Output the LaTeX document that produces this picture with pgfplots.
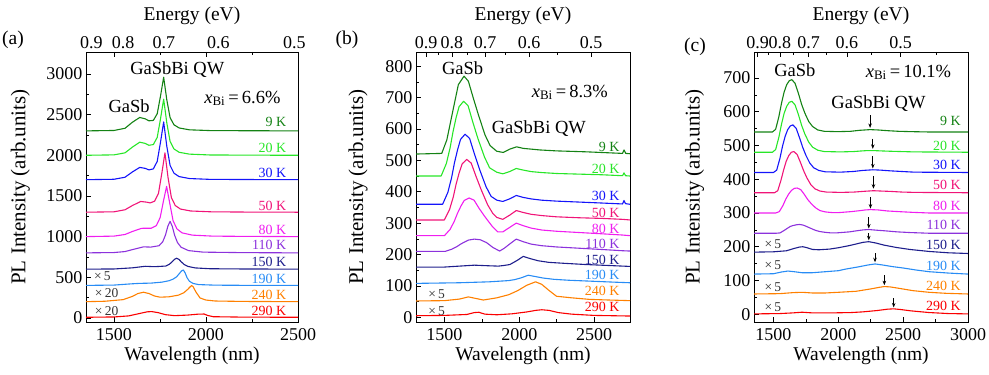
\documentclass[border=0pt]{standalone}
\usepackage{pgfplots}
\pgfplotsset{compat=1.18}
\usepackage{fontspec}
\setmainfont{Liberation Serif}
\usetikzlibrary{arrows.meta}
\definecolor{cA}{RGB}{20,130,20}
\definecolor{cB}{RGB}{40,230,40}
\definecolor{cC}{RGB}{20,20,250}
\definecolor{cD}{RGB}{240,20,120}
\definecolor{cE}{RGB}{240,30,240}
\definecolor{cF}{RGB}{140,50,220}
\definecolor{cG}{RGB}{30,30,140}
\definecolor{cH}{RGB}{40,140,245}
\definecolor{cI}{RGB}{255,128,0}
\definecolor{cJ}{RGB}{250,0,0}
\newcommand{\tk}{\fontsize{18}{18}\selectfont}
\newcommand{\lb}{\fontsize{19.5}{20}\selectfont}
\newcommand{\an}{\fontsize{18.5}{19}\selectfont}
\newcommand{\tf}{\fontsize{14}{14}\selectfont}
\newcommand{\xf}{\fontsize{13.5}{14}\selectfont}
\tikzset{
 tl/.style={font=\tf, anchor=east},
 xl/.style={font=\xf, text=black!80},
 ar/.style={black, line width=0.8pt, -{Stealth[length=4.5pt,width=3.5pt]}},
}
\pgfplotsset{
 base/.style={scale only axis, anchor=south west, height=270pt,
   tick align=inside, major tick length=5pt, minor tick length=3pt,
   /pgf/number format/assume math mode=true, /pgf/number format/1000 sep={},
   ticklabel style={font=\tk},
   axis line style={line width=0.7pt}, every tick/.style={black, line width=0.6pt}},
 main/.style={base, ytick pos=left, minor y tick num=1, minor x tick num=1,
   xticklabel style={yshift=-3pt},
   xlabel={Wavelength (nm)}, ylabel={PL Intensity (arb.units)},
   every axis x label/.style={at={(axis description cs:0.5,-0.125)}, anchor=center, font=\lb},
   every axis y label/.style={rotate=90, anchor=center, font=\fontsize{21}{21}\selectfont},
   every axis plot/.append style={line width=1.1pt, line join=round}},
 top/.style={base, axis x line*=top, hide y axis, ymin=0, ymax=1,
   xlabel={Energy (eV)},
   xtick={1377.8,1550,1771.4,2066.7,2480}, xticklabels={0.9,0.8,0.7,0.6,0.5},
   every axis x label/.style={at={(axis description cs:0.5,1.135)}, anchor=center, font=\lb}},
}
\begin{document}
\begin{tikzpicture}
\path[use as bounding box] (0pt,0pt) rectangle (989pt,375pt);
% ---------------- (a)
\begin{axis}[main, at={(86pt,53pt)}, width=212pt, xmin=1348, xmax=2500, ymin=-50, ymax=3270,
  xtick={1500,2000,2500}, ytick={0,500,...,3000}, xtick pos=both, xticklabel pos=lower,
  ylabel style={at={(axis description cs:-0.31,0.5)}}]
\addplot[cA] coordinates {(1348,2300)(1500,2305)(1560,2332)(1600,2406)(1640,2465)(1670,2448)(1690,2424)(1714,2429)(1735,2511)(1753,2730)(1770,2960)(1787,2683)(1805,2462)(1826,2375)(1854,2336)(1910,2313)(2020,2304)(2200,2302)(2500,2300)};
\addplot[cB] coordinates {(1348,2000)(1500,2005)(1560,2030)(1600,2100)(1640,2161)(1670,2146)(1690,2123)(1714,2132)(1735,2220)(1753,2450)(1770,2690)(1787,2400)(1805,2170)(1826,2078)(1854,2037)(1910,2014)(2020,2004)(2200,2002)(2500,2000)};
\addplot[cC] coordinates {(1348,1700)(1500,1705)(1560,1730)(1600,1795)(1640,1851)(1670,1839)(1690,1820)(1714,1833)(1735,1925)(1753,2163)(1770,2410)(1787,2112)(1805,1875)(1826,1780)(1854,1738)(1910,1714)(2020,1704)(2200,1702)(2500,1700)};
\addplot[cD] coordinates {(1348,1300)(1500,1305)(1560,1330)(1600,1382)(1645,1432)(1677,1424)(1697,1414)(1721,1436)(1742,1533)(1760,1777)(1777,2030)(1794,1723)(1812,1480)(1833,1382)(1861,1339)(1917,1315)(2027,1305)(2200,1302)(2500,1300)};
\addplot[cE] coordinates {(1348,1000)(1500,1006)(1560,1026)(1600,1063)(1650,1102)(1686,1103)(1702,1103)(1730,1134)(1751,1234)(1769,1439)(1786,1617)(1803,1412)(1821,1197)(1842,1095)(1870,1046)(1926,1018)(2036,1006)(2200,1003)(2500,1000)};
\addplot[cF] coordinates {(1348,800)(1500,804)(1560,816)(1600,840)(1660,874)(1700,871)(1745,888)(1765,937)(1780,1020)(1793,1129)(1805,1188)(1817,1125)(1830,1014)(1845,927)(1865,869)(1905,828)(1985,809)(2200,803)(2500,800)};
\addplot[cG] coordinates {(1348,600)(1500,602)(1600,616)(1670,635)(1720,630)(1781,638)(1801,660)(1816,690)(1829,721)(1841,734)(1853,720)(1866,689)(1881,658)(1901,634)(1941,615)(2021,605)(2200,602)(2500,600)};
\addplot[cH] coordinates {(1348,400)(1500,404)(1600,420)(1640,425)(1700,428)(1760,440)(1800,458)(1822,478)(1840,505)(1855,545)(1867,578)(1877,590)(1887,552)(1897,495)(1910,451)(1930,424)(1960,410)(2050,403)(2200,401)(2500,400)};
\addplot[cI] coordinates {(1348,200)(1450,205)(1550,225)(1600,265)(1630,300)(1660,316)(1690,300)(1720,270)(1750,255)(1800,260)(1850,280)(1880,310)(1900,350)(1915,385)(1922,398)(1930,385)(1945,320)(1968,245)(2000,220)(2050,208)(2200,203)(2500,200)};
\addplot[cJ] coordinates {(1348,8)(1500,12)(1580,25)(1640,55)(1680,75)(1705,78)(1740,65)(1780,40)(1830,28)(1900,35)(1960,47)(1990,48)(2010,30)(2040,15)(2200,10)(2500,8)};
\node[tl,text=cA] at (axis cs:2455,2415) {9 K};
\node[tl,text=cB] at (axis cs:2455,2087) {20 K};
\node[tl,text=cC] at (axis cs:2455,1780) {30 K};
\node[tl,text=cD] at (axis cs:2455,1381) {50 K};
\node[tl,text=cE] at (axis cs:2455,1082) {80 K};
\node[tl,text=cF] at (axis cs:2455,898) {110 K};
\node[tl,text=cG] at (axis cs:2455,685) {150 K};
\node[tl,text=cH] at (axis cs:2455,480) {190 K};
\node[tl,text=cI] at (axis cs:2455,283) {240 K};
\node[tl,text=cJ] at (axis cs:2455,90) {290 K};
\node[font=\an] at (axis cs:1844,3050) {GaSbBi QW};
\node[font=\an] at (axis cs:1582,2600) {GaSb};
\node[font=\an] at (axis cs:2198,2700) {\textit{x}\textsubscript{Bi}\,=\,6.6\%};
\node[xl] at (axis cs:1437,508) {×\,5};
\node[xl] at (axis cs:1460,305) {×\,20};
\node[xl] at (axis cs:1460,90) {×\,20};
\end{axis}
\begin{axis}[top, at={(86pt,53pt)}, width=212pt, xmin=1348, xmax=2500, major tick length=0pt]
\end{axis}
% ---------------- (b)
\begin{axis}[main, at={(416pt,53pt)}, width=214pt, xmin=1310, xmax=2740, ymin=-15, ymax=845,
  xtick={1500,2000,2500}, ytick={0,100,...,800}, xtick pos=left,
  ylabel style={at={(axis description cs:-0.271,0.5)}}]
\addplot[cA] coordinates {(1310,520)(1482,522)(1516,565)(1560,666)(1593,741)(1631,768)(1660,752)(1693,698)(1727,645)(1771,581)(1805,547)(1849,529)(1893,525)(1938,536)(1982,543)(2027,538)(2138,533)(2250,530)(2450,527)(2690,522)(2700,533)(2712,522)(2740,521)};
\addplot[cB] coordinates {(1310,450)(1478,450)(1513,490)(1538,540)(1557,590)(1578,636)(1598,671)(1628,688)(1658,674)(1690,621)(1724,569)(1768,510)(1802,476)(1850,462)(1890,457)(1935,464)(1980,474)(2025,469)(2080,464)(2150,461)(2250,458)(2400,456)(2550,454)(2690,451)(2700,460)(2710,451)(2740,450)};
\addplot[cC] coordinates {(1310,360)(1488,360)(1523,398)(1548,445)(1567,492)(1588,534)(1608,567)(1638,583)(1668,570)(1700,521)(1734,472)(1778,416)(1812,385)(1850,373)(1890,369)(1935,377)(1980,388)(2025,382)(2080,377)(2150,373)(2250,370)(2400,367)(2550,364)(2690,361)(2700,372)(2710,362)(2740,360)};
\addplot[cD] coordinates {(1310,310)(1499,310)(1534,343)(1559,383)(1578,424)(1599,461)(1619,489)(1649,503)(1679,491)(1711,449)(1745,407)(1789,358)(1823,331)(1850,318)(1890,312)(1935,325)(1980,340)(2025,334)(2080,328)(2150,324)(2250,320)(2400,317)(2550,315)(2690,312)(2740,310)};
\addplot[cE] coordinates {(1310,260)(1500,260)(1538,280)(1566,306)(1587,331)(1610,354)(1632,372)(1665,380)(1698,373)(1733,346)(1771,320)(1819,290)(1856,272)(1890,272)(1935,286)(1980,300)(2025,292)(2080,284)(2150,278)(2250,274)(2400,270)(2550,266)(2690,262)(2740,260)};
\addplot[cF] coordinates {(1310,210)(1505,210)(1550,217)(1583,225)(1608,233)(1635,240)(1661,246)(1700,249)(1739,247)(1781,238)(1825,222)(1869,211)(1900,220)(1935,233)(1980,249)(2025,241)(2080,233)(2150,228)(2250,224)(2400,220)(2550,216)(2690,212)(2740,211)};
\addplot[cG] coordinates {(1310,160)(1500,160)(1600,163)(1700,166)(1800,164)(1860,163)(1897,165)(1937,168)(1982,180)(2027,194)(2072,187)(2127,180)(2197,175)(2297,172)(2447,168)(2597,165)(2740,162)};
\addplot[cH] coordinates {(1310,108)(1600,110)(1800,113)(1900,116)(1930,117)(1970,120)(2015,126)(2060,134)(2105,130)(2160,125)(2230,121)(2330,118)(2480,115)(2630,112)(2740,110)};
\addplot[cI] coordinates {(1310,52)(1500,53)(1600,58)(1660,65)(1710,60)(1760,55)(1850,62)(1930,72)(1990,85)(2050,102)(2109,113)(2150,105)(2200,85)(2249,67)(2350,62)(2471,57)(2600,55)(2740,53)};
\addplot[cJ] coordinates {(1310,5)(1500,6)(1650,9)(1700,15)(1730,16)(1770,10)(1850,8)(1950,11)(2050,17)(2110,22)(2150,24)(2200,22)(2260,15)(2350,10)(2500,6)(2740,4)};
\node[tl,text=cA] at (axis cs:2693,543) {9 K};
\node[tl,text=cB] at (axis cs:2693,474) {20 K};
\node[tl,text=cC] at (axis cs:2693,388) {30 K};
\node[tl,text=cD] at (axis cs:2693,333) {50 K};
\node[tl,text=cE] at (axis cs:2693,281) {80 K};
\node[tl,text=cF] at (axis cs:2693,233) {110 K};
\node[tl,text=cG] at (axis cs:2693,182) {150 K};
\node[tl,text=cH] at (axis cs:2693,134) {190 K};
\node[tl,text=cI] at (axis cs:2693,83) {240 K};
\node[tl,text=cJ] at (axis cs:2693,32) {290 K};
\node[font=\an] at (axis cs:1622,795) {GaSb};
\node[font=\an] at (axis cs:2131,602) {GaSbBi QW};
\node[font=\an] at (axis cs:2338,716) {\textit{x}\textsubscript{Bi}\,=\,8.3\%};
\node[xl] at (axis cs:1448,73) {×\,5};
\node[xl] at (axis cs:1448,19) {×\,5};
\end{axis}
\begin{axis}[top, at={(416pt,53pt)}, width=214pt, xmin=1310, xmax=2740,
  minor xtick={1458.8,1653.3,1907.7,2254.5}]
\end{axis}
% ---------------- (c)
\begin{axis}[main, at={(754pt,53pt)}, width=214pt, xmin=1350, xmax=3000, ymin=-23, ymax=777,
  xtick={1500,2000,2500,3000}, ytick={0,100,...,700}, xtick pos=left,
  ylabel style={at={(axis description cs:-0.277,0.5)}}]
\addplot[cA] coordinates {(1350,540)(1492,540)(1517,548)(1542,586)(1562,625)(1582,658)(1602,680)(1622,692)(1642,695)(1667,684)(1692,655)(1717,622)(1742,596)(1772,571)(1802,556)(1842,546)(1892,542)(1995,541)(2095,542)(2165,545)(2205,546)(2245,547)(2305,546)(2375,544)(2465,542)(2565,541)(2700,540)(3000,540)};
\addplot[cB] coordinates {(1350,480)(1492,480)(1517,488)(1542,525)(1562,563)(1582,595)(1602,616)(1622,628)(1642,631)(1667,620)(1692,592)(1717,560)(1742,534)(1772,510)(1802,495)(1842,486)(1892,482)(2016,481)(2116,482)(2186,484)(2226,485)(2266,485)(2326,484)(2396,483)(2486,482)(2586,481)(3000,480)};
\addplot[cC] coordinates {(1350,420)(1500,420)(1525,427)(1550,462)(1570,498)(1590,527)(1610,547)(1630,558)(1650,561)(1675,551)(1700,524)(1725,495)(1750,471)(1780,448)(1810,434)(1850,426)(1900,422)(2016,421)(2116,423)(2186,426)(2226,427)(2266,428)(2326,427)(2396,425)(2486,423)(2586,421)(3000,420)};
\addplot[cD] coordinates {(1350,360)(1508,360)(1533,366)(1558,397)(1578,427)(1598,453)(1618,470)(1638,480)(1658,482)(1683,473)(1708,450)(1733,425)(1758,404)(1788,384)(1818,372)(1858,365)(1908,362)(2021,361)(2121,362)(2191,364)(2231,365)(2271,366)(2331,365)(2401,364)(2491,362)(2591,361)(3000,360)};
\addplot[cE] coordinates {(1350,300)(1518,300)(1545,304)(1573,322)(1595,341)(1617,356)(1639,367)(1661,373)(1683,374)(1711,369)(1738,355)(1766,339)(1793,327)(1826,315)(1859,307)(1903,303)(1958,301)(1998,301)(2098,304)(2168,307)(2208,309)(2248,310)(2308,309)(2378,306)(2468,304)(2568,302)(2700,300)(3000,300)};
\addplot[cF] coordinates {(1350,240)(1521,240)(1551,241)(1581,248)(1605,254)(1629,260)(1653,263)(1677,265)(1701,266)(1731,264)(1761,259)(1791,254)(1821,249)(1857,245)(1893,243)(1941,241)(1985,241)(2085,244)(2155,248)(2195,250)(2235,251)(2295,249)(2365,247)(2455,244)(2555,242)(2700,240)(3000,240)};
\addplot[cG] coordinates {(1350,184)(1500,185)(1600,188)(1660,195)(1700,199)(1727,200)(1760,197)(1800,192)(1850,191)(1932,193)(2000,197)(2080,203)(2136,208)(2190,213)(2235,215)(2290,211)(2350,205)(2445,198)(2550,192)(2701,186)(2850,182)(3000,180)};
\addplot[cH] coordinates {(1350,119)(1500,120)(1560,125)(1612,128)(1660,126)(1720,123)(1800,123)(1900,126)(2000,129)(2060,134)(2150,140)(2230,146)(2283,149)(2340,146)(2420,141)(2500,137)(2600,131)(2701,126)(2850,122)(3000,119)};
\addplot[cI] coordinates {(1350,60)(1550,61)(1650,64)(1720,65)(1800,63)(1900,63)(2000,65)(2137,68)(2250,75)(2320,80)(2355,82)(2400,81)(2480,76)(2573,70)(2700,65)(2830,62)(3000,60)};
\addplot[cJ] coordinates {(1350,1)(1550,2)(1650,4)(1720,6)(1800,4)(1950,4)(2100,5)(2189,7)(2300,11)(2380,15)(2427,16)(2480,14)(2560,10)(2701,5)(2850,2)(3000,1)};
\addplot[ar] coordinates {(2245,590)(2245,552)};
\addplot[ar] coordinates {(2266,520)(2266,490)};
\addplot[ar] coordinates {(2266,468)(2266,432)};
\addplot[ar] coordinates {(2271,410)(2271,372)};
\addplot[ar] coordinates {(2248,348)(2248,313)};
\addplot[ar] coordinates {(2235,288)(2235,254)};
\addplot[ar] coordinates {(2235,240)(2235,219)};
\addplot[ar] coordinates {(2283,180)(2283,154)};
\addplot[ar] coordinates {(2355,116)(2355,86)};
\addplot[ar] coordinates {(2427,48)(2427,20)};
\node[tl,text=cA] at (axis cs:2971,574) {9 K};
\node[tl,text=cB] at (axis cs:2971,500) {20 K};
\node[tl,text=cC] at (axis cs:2971,442) {30 K};
\node[tl,text=cD] at (axis cs:2971,383) {50 K};
\node[tl,text=cE] at (axis cs:2971,322) {80 K};
\node[tl,text=cF] at (axis cs:2971,265) {110 K};
\node[tl,text=cG] at (axis cs:2971,205) {150 K};
\node[tl,text=cH] at (axis cs:2971,144) {190 K};
\node[tl,text=cI] at (axis cs:2971,85) {240 K};
\node[tl,text=cJ] at (axis cs:2971,26) {290 K};
\node[font=\an] at (axis cs:1665,722) {GaSb};
\node[font=\an] at (axis cs:2310,623) {GaSbBi QW};
\node[font=\an] at (axis cs:2541,717) {\textit{x}\textsubscript{Bi}\,=\,10.1\%};
\node[xl] at (axis cs:1496,208) {×\,5};
\node[xl] at (axis cs:1496,144) {×\,5};
\node[xl] at (axis cs:1496,80) {×\,5};
\node[xl] at (axis cs:1496,21) {×\,5};
\end{axis}
\begin{axis}[top, at={(754pt,53pt)}, width=214pt, xmin=1350, xmax=3000,
  minor xtick={1458.8,1653.3,1907.7,2254.5,2755.6}]
\end{axis}
\node[font=\fontsize{19.5}{20}\selectfont] at (13pt,335pt) {(a)};
\node[font=\fontsize{19.5}{20}\selectfont] at (347pt,335pt) {(b)};
\node[font=\fontsize{19.5}{20}\selectfont] at (695pt,328pt) {(c)};
\end{tikzpicture}
\end{document}
